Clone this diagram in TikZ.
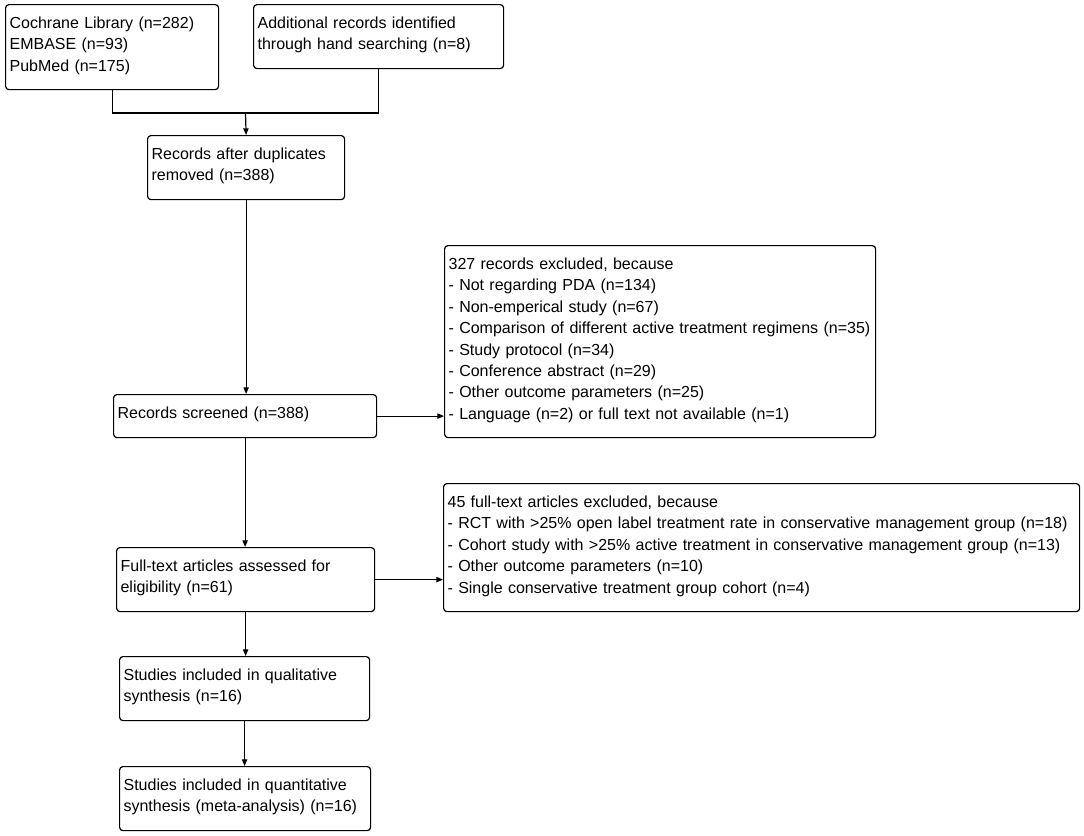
\documentclass[tikz,border=0pt]{standalone}
\usepackage{fontspec}
\setmainfont{Liberation Sans}
\usepackage{tikz}
\usetikzlibrary{arrows.meta,positioning}
\newcommand{\boxfont}{\fontsize{12pt}{16.05pt}\selectfont}
\tikzstyle{box} = [draw,line width=0.9pt,rounded corners=2.5pt,anchor=north west,align=left,inner xsep=3pt,inner ysep=0pt,text height=17.9pt,font=\boxfont]
\tikzstyle{arrow} = [line width=0.9pt,-{Triangle[length=5pt,width=4pt]}]
\tikzstyle{line} = [line width=0.9pt,line join=miter]

\begin{document}
\begin{tikzpicture}[x=0.75pt,y=-0.75pt]
\useasboundingbox (0,0) rectangle (1084,835);

% Identification
\node[box,text width=153.75pt,text depth=45.85pt] (src1) at (5,4)
  {Cochrane Library (n=282)\\EMBASE (n=93)\\PubMed (n=175)};
\node[box,text width=181.5pt,text depth=30.1pt] (src2) at (253,4)
  {Additional records identified\\through hand searching (n=8)};
\node[box,text width=141.75pt,text depth=30.1pt] (dedup) at (147,135)
  {Records after duplicates\\removed (n=388)};

% Screening
\node[box,text width=191.25pt,text depth=14.35pt] (screen) at (113,394)
  {Records screened (n=388)};
\node[box,text width=317.25pt,text depth=126.1pt] (excl1) at (444,245)
  {327 records excluded, because\\
   - Not regarding PDA (n=134)\\
   - Non-emperical study (n=67)\\
   - Comparison of different active treatment regimens (n=35)\\
   - Study protocol (n=34)\\
   - Conference abstract (n=29)\\
   - Other outcome parameters (n=25)\\
   - Language (n=2) or full text not available (n=1)};

% Eligibility
\node[box,text width=187.5pt,text depth=30.1pt] (fulltext) at (116,547)
  {Full-text articles assessed for\\eligibility (n=61)};
\node[box,text width=471pt,text depth=78.1pt] (excl2) at (443,483)
  {45 full-text articles excluded, because\\
   - RCT with >25\% open label treatment rate in conservative management group (n=18)\\
   - Cohort study with >25\% active treatment in conservative management group (n=13)\\
   - Other outcome parameters (n=10)\\
   - Single conservative treatment group cohort (n=4)};

% Included
\node[box,text width=181.5pt,text depth=30.1pt] (qual) at (119,656)
  {Studies included in qualitative\\synthesis (n=16)};
\node[box,text width=182.25pt,text depth=30.1pt] (quant) at (119,766)
  {Studies included in quantitative\\synthesis (meta-analysis) (n=16)};

% Connectors
\coordinate (join) at (245.5,113);
\draw[line] (src1.south) |- (src2.south |- join) -- (src2.south);
\draw[arrow] (join) -- (dedup.north);
\draw[arrow] (dedup.south) -- (dedup.south |- screen.north);
\draw[arrow] (screen.east) -- (screen.east -| excl1.west);
\draw[arrow] (screen.south) -- (screen.south |- fulltext.north);
\draw[arrow] (fulltext.east) -- (fulltext.east -| excl2.west);
\draw[arrow] (fulltext.south) -- (fulltext.south |- qual.north);
\draw[arrow] (qual.south) -- (qual.south |- quant.north);
\end{tikzpicture}
\end{document}
